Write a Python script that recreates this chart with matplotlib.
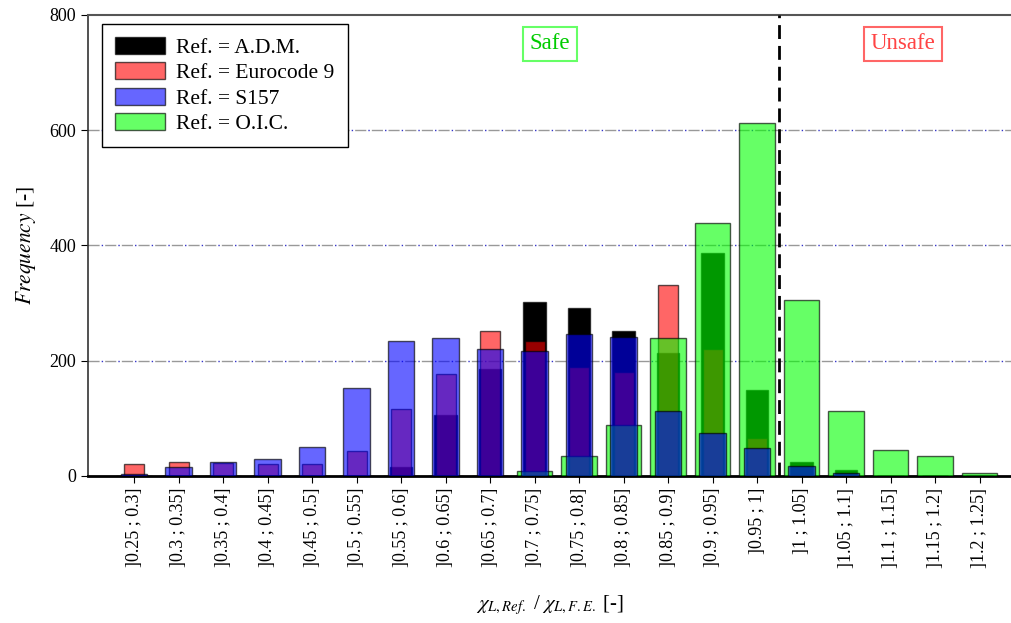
import numpy as np
import matplotlib.pyplot as plt

plt.rcParams['font.family'] = ['Liberation Serif', 'DejaVu Serif']
plt.rcParams['mathtext.fontset'] = 'stix'

# Classes of the ratio chi_L,Ref / chi_L,F.E.
bins = [']0.25 ; 0.3]', ']0.3 ; 0.35]', ']0.35 ; 0.4]', ']0.4 ; 0.45]', ']0.45 ; 0.5]',
        ']0.5 ; 0.55]', ']0.55 ; 0.6]', ']0.6 ; 0.65]', ']0.65 ; 0.7]', ']0.7 ; 0.75]',
        ']0.75 ; 0.8]', ']0.8 ; 0.85]', ']0.85 ; 0.9]', ']0.9 ; 0.95]', ']0.95 ; 1]',
        ']1 ; 1.05]', ']1.05 ; 1.1]', ']1.1 ; 1.15]', ']1.15 ; 1.2]', ']1.2 ; 1.25]']

# Frequencies for each reference method
adm = [0, 0, 0, 0, 0, 0, 15, 106, 186, 302, 292, 251, 213, 387, 150, 24, 10, 0, 0, 0]
ec9 = [20, 25, 23, 20, 20, 44, 116, 177, 252, 234, 189, 181, 332, 220, 66, 0, 0, 0, 0, 0]
s157 = [3, 15, 24, 30, 50, 153, 235, 240, 220, 216, 246, 242, 112, 74, 49, 17, 6, 0, 0, 0]
oic = [0, 0, 0, 0, 0, 0, 0, 0, 0, 8, 34, 88, 240, 439, 613, 306, 113, 45, 34, 5]

x = np.arange(len(bins))

fig = plt.figure(figsize=(10.12, 6.23), dpi=100)
ax = fig.add_axes([0.087, 0.236, 0.913, 0.740])

# horizontal grid: grey dashes with small blue dots
for yv in [200, 400, 600]:
    ax.axhline(yv, color='#999999', lw=1.0, linestyle=(0, (8, 4)), zorder=0.5)
    ax.axhline(yv, color='#3333cc', lw=1.0, linestyle=(-9.5, (1, 11)), zorder=0.6)

edge = dict(edgecolor=(0, 0, 0, 0.65), linewidth=1.0)
b_adm = ax.bar(x, adm, width=0.5, color='black', zorder=1, **edge)
b_ec9 = ax.bar(x, ec9, width=0.45, color=(1, 0, 0, 0.6), zorder=2, **edge)
b_oic = ax.bar(x, oic, width=0.8, color=(0, 1, 0, 0.6), zorder=3, **edge)
b_s157 = ax.bar(x, s157, width=0.6, color=(0, 0, 1, 0.6), zorder=4, **edge)

# limit between safe and unsafe side
ax.axvline(14.5, color='black', lw=2, linestyle=(0, (5, 2.5)), zorder=5)

ax.text(9.35, 750, 'Safe', color='#00cc00', fontsize=16.5, ha='center', va='center',
        bbox=dict(boxstyle='square,pad=0.28', fc='white', ec='#66ff66', lw=1.5))
ax.text(17.28, 750, 'Unsafe', color='#ff4444', fontsize=16.5, ha='center', va='center',
        bbox=dict(boxstyle='square,pad=0.28', fc='white', ec='#ff6666', lw=1.5))

ax.set_xlim(-1.034, 19.73)
ax.set_ylim(0, 800)
ax.set_yticks([0, 200, 400, 600, 800])
ax.set_xticks(x)
ax.set_xticklabels(bins, rotation=90, fontsize=13)
ax.tick_params(axis='y', labelsize=13, direction='out', length=5)
ax.tick_params(axis='x', direction='out', length=5)

ax.spines['right'].set_visible(False)
ax.spines['top'].set_color('#555555')
ax.spines['top'].set_linewidth(1.5)
ax.spines['left'].set_color('#333333')
ax.spines['left'].set_linewidth(1.2)
ax.spines['bottom'].set_color('black')
ax.spines['bottom'].set_linewidth(2)

ax.set_ylabel(r'$\mathit{Frequency}$ [-]', fontsize=15.5, labelpad=8)
ax.set_xlabel(r'$\chi_{L,Ref.}$ / $\chi_{L,F.E.}$ [-]', fontsize=15, labelpad=18)

leg = ax.legend([b_adm, b_ec9, b_s157, b_oic],
                ['Ref. = A.D.M.', 'Ref. = Eurocode 9', 'Ref. = S157', 'Ref. = O.I.C.'],
                loc='upper left', bbox_to_anchor=(0.0153, 0.9805), borderaxespad=0,
                fontsize=15.5, handlelength=2.3, handleheight=0.85, labelspacing=0.2,
                handletextpad=0.55, fancybox=False, framealpha=1,
                edgecolor='black', borderpad=0.6)
leg.get_frame().set_linewidth(1.0)

fig.savefig('out.png', dpi=100)
